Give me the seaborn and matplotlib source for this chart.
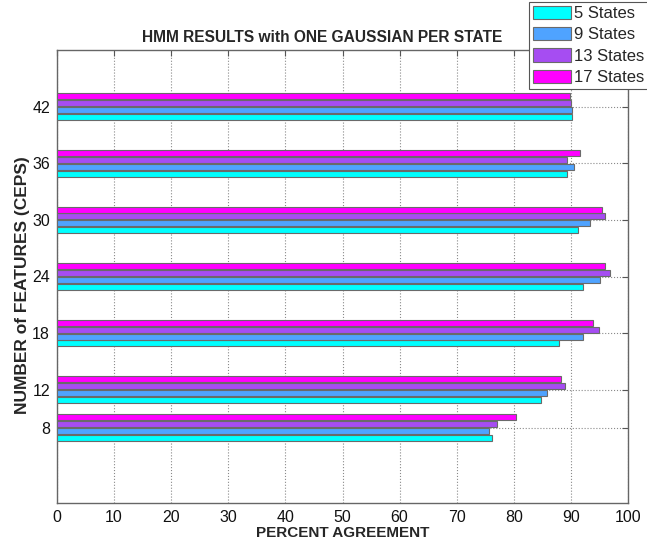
import pandas as pd
import seaborn as sns
import matplotlib.pyplot as plt

# values
feats = [8, 12, 18, 24, 30, 36, 42]
s5 = [76.2, 84.7, 87.9, 92.2, 91.2, 89.3, 90.2]
s9 = [75.7, 85.8, 92.2, 95.1, 93.3, 90.6, 90.2]
s13 = [77.1, 89.0, 94.9, 96.8, 95.9, 89.4, 90.1]
s17 = [80.4, 88.2, 93.9, 95.9, 95.4, 91.6, 89.9]
states = ['5 States', '9 States', '13 States', '17 States']
colors = ['#00FFFF', '#4FA3FF', '#A64DF2', '#FF00FF']
xticks = [0, 10, 20, 30, 40, 50, 60, 70, 80, 90, 100]

rows = []
for name, vals in zip(states, [s5, s9, s13, s17]):
    for f, v in zip(feats, vals):
        rows.append({'feat': f, 'pct': v, 'states': name})
data = pd.DataFrame(rows)

sns.set_style('white')
plt.rcParams['font.family'] = ['Liberation Sans', 'DejaVu Sans']

fig = plt.figure(figsize=(6.47, 5.40), dpi=100)
ax = fig.add_axes([57/647, 37/540, 571/647, 453/540])

sns.barplot(data=data, x='pct', y='feat', hue='states', hue_order=states,
            palette=colors, orient='h', native_scale=True, width=0.727,
            gap=0.12, edgecolor='#6a6a6a', linewidth=0.8, saturation=1,
            errorbar=None, ax=ax, zorder=3)

ax.set_xlim(0, 100)
ax.set_ylim(0, 48)
ax.set_xticks(xticks)
ax.set_yticks(feats)
ax.set_yticklabels([str(f) for f in feats])
ax.tick_params(direction='in', top=True, right=True, length=4, labelsize=11.5,
               color='#555555', labelcolor='#111111', pad=5)
ax.grid(True, linestyle=':', color='#8a8a8a', linewidth=0.8, zorder=0)
ax.set_axisbelow(True)
for sp in ax.spines.values():
    sp.set_color('#666666')
    sp.set_linewidth(1.0)

ax.set_xlabel('PERCENT AGREEMENT', fontsize=11, fontweight='bold', labelpad=1)
ax.set_ylabel('NUMBER of FEATURES (CEPS)', fontsize=12.5, fontweight='bold')
ax.yaxis.set_label_coords(-0.048, 0.48)
fig.text(322/647, 1 - 38/540, 'HMM RESULTS with ONE GAUSSIAN PER STATE',
         ha='center', va='center', fontsize=11.2, fontweight='bold')

ax.legend_.remove()
handles, labels = ax.get_legend_handles_labels()
leg = fig.legend(handles[:4], labels[:4], loc='lower left',
                 bbox_to_anchor=(529/647, 1 - 89/540), fontsize=12,
                 frameon=True, fancybox=False, framealpha=1,
                 edgecolor='#555555', handlelength=2.3, handleheight=0.85,
                 labelspacing=0.36, borderpad=0.22, handletextpad=0.2,
                 borderaxespad=0)
leg.get_frame().set_linewidth(0.8)
for h in leg.legend_handles:
    h.set_edgecolor('#6a6a6a')

fig.savefig('out.png', dpi=100)
